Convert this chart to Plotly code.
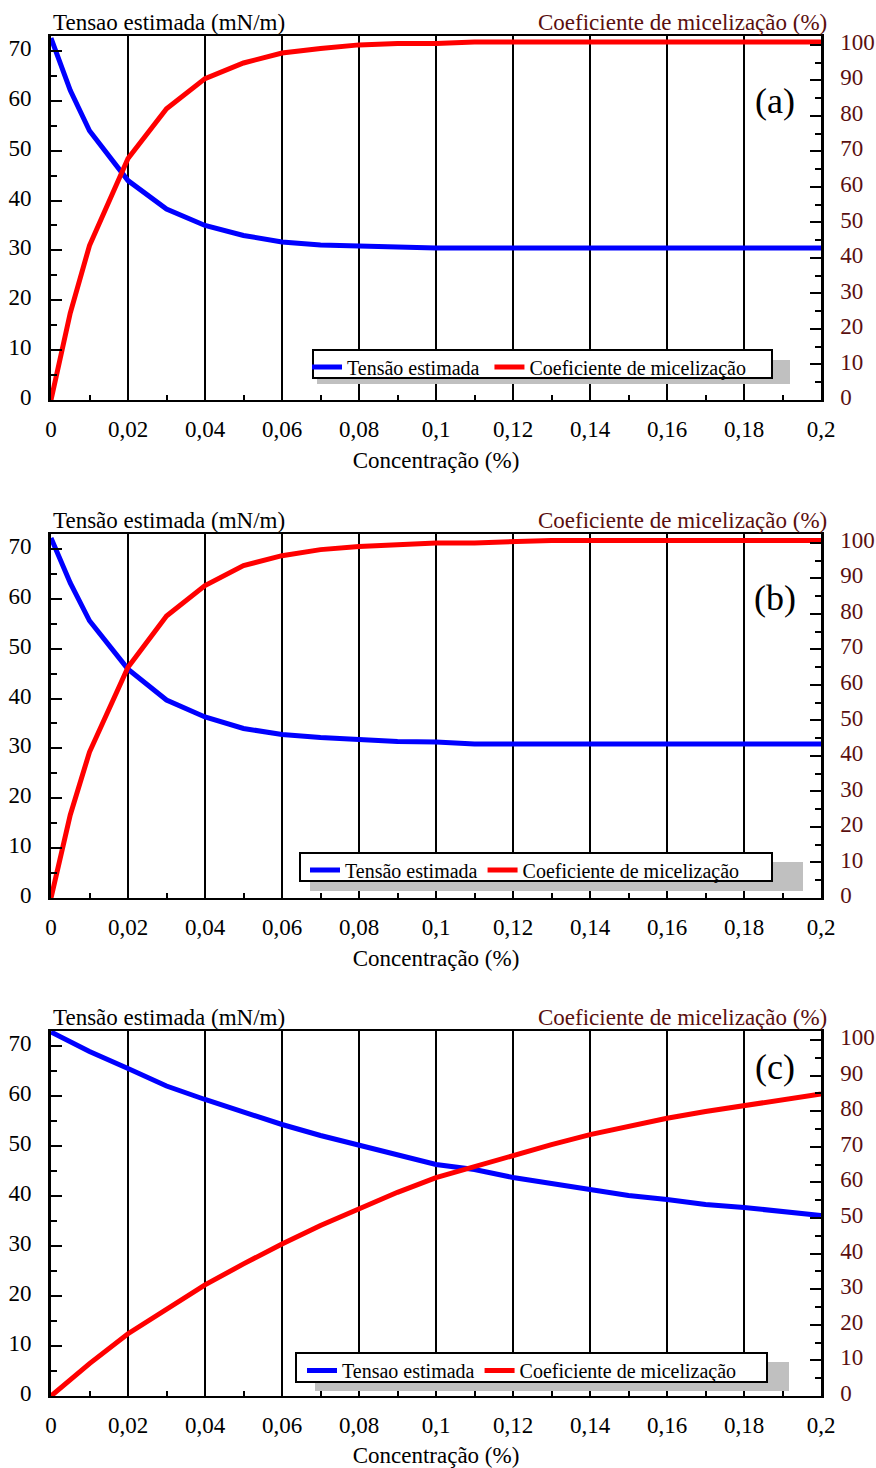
import plotly.graph_objects as go

# ---------------- data ----------------
X_AB = [0, 0.005, 0.01, 0.02, 0.03, 0.04, 0.05, 0.06, 0.07, 0.08, 0.09, 0.1,
        0.11, 0.12, 0.13, 0.14, 0.15, 0.16, 0.17, 0.18, 0.19, 0.2]
TENSAO_A = [72.6, 62.1, 54.0, 44.0, 38.3, 35.0, 33.0, 31.7, 31.1, 30.9, 30.5, 30.5,
            30.5, 30.5, 30.5, 30.5, 30.5, 30.5, 30.5, 30.5, 30.5, 30.5]
COEF_A = [0, 24.5, 43.5, 68.0, 82.0, 90.5, 94.9, 97.7, 99.0, 100.0, 100.4, 100.4,
          100.8, 100.8, 100.8, 100.8, 100.8, 100.8, 100.8, 100.8, 100.8, 100.8]

TENSAO_B = [72.2, 63.2, 55.6, 45.9, 39.7, 36.3, 34.0, 32.8, 32.2, 31.8, 31.4, 31.3,
            30.9, 30.9, 30.9, 30.9, 30.9, 30.9, 30.9, 30.9, 30.9, 30.9]
COEF_B = [0, 23.4, 41.1, 65.0, 79.4, 88.0, 93.6, 96.4, 98.1, 99.0, 99.5, 100.0,
          100.0, 100.4, 100.7, 100.7, 100.7, 100.7, 100.7, 100.7, 100.7, 100.7]

X_C = [0, 0.01, 0.02, 0.03, 0.04, 0.05, 0.06, 0.07, 0.08, 0.09, 0.1,
       0.11, 0.12, 0.13, 0.14, 0.15, 0.16, 0.17, 0.18, 0.19, 0.2]
TENSAO_C = [72.8, 68.9, 65.5, 62.0, 59.3, 56.7, 54.3, 52.1, 50.1, 48.1, 46.3,
            45.3, 43.7, 42.5, 41.3, 40.1, 39.3, 38.3, 37.7, 36.8, 36.1]
COEF_C = [0, 9.1, 17.5, 24.5, 31.2, 37.1, 42.7, 47.9, 52.5, 57.2, 61.3,
          64.5, 67.6, 70.6, 73.4, 75.7, 78.0, 79.9, 81.6, 83.2, 84.8]

X_TICKS = [0, 0.02, 0.04, 0.06, 0.08, 0.1, 0.12, 0.14, 0.16, 0.18, 0.2]
X_TICK_LABELS = ["0", "0,02", "0,04", "0,06", "0,08", "0,1", "0,12", "0,14", "0,16", "0,18", "0,2"]

LEFT_TITLES = ["Tensao estimada (mN/m)", "Tensão estimada (mN/m)", "Tensão estimada (mN/m)"]
RIGHT_TITLE = "Coeficiente de micelização (%)"
X_TITLE = "Concentração (%)"
LEGEND_TENSAO = ["Tensão estimada\u00a0", "Tensão estimada", "Tensao estimada"]
LEGEND_COEF = "Coeficiente de micelização"
PANEL_TAGS = ["(a)", "(b)", "(c)"]

# ---------------- layout helpers ----------------
W, H = 876, 1468
FONT = "Liberation Serif, Times New Roman, serif"
MAROON = "#5a0f0f"


def px(x):
    return x / W


def py(y):
    return 1 - y / H


def f(size, color="black"):
    return dict(family=FONT, size=size, color=color)


X0, X1 = 51, 821
panels = [
    dict(top=36, bottom=400, x=X_AB, t=TENSAO_A, c=COEF_A, tag_y=101,
         leg_x=307, box=(313, 350, 772, 378), shadow=(317, 360, 790, 384)),
    dict(top=534, bottom=898, x=X_AB, t=TENSAO_B, c=COEF_B, tag_y=598,
         leg_x=305, box=(300, 853, 772, 881), shadow=(310, 862, 803, 891)),
    dict(top=1031, bottom=1396, x=X_C, t=TENSAO_C, c=COEF_C, tag_y=1067,
         leg_x=302, box=(296, 1353, 767, 1382), shadow=(315, 1362, 789, 1391)),
]

fig = go.Figure()
layout = dict(
    width=W, height=H, template="none",
    margin=dict(l=0, r=0, t=0, b=0),
    paper_bgcolor="white", plot_bgcolor="white",
    font=f(23),
    showlegend=True,
)
annotations = []
shapes = []

for i, p in enumerate(panels):
    n = i + 1
    xa = "x" if n == 1 else f"x{n}"
    ya_l = 2 * n - 1
    ya_r = 2 * n
    yl = "y" if ya_l == 1 else f"y{ya_l}"
    yr = f"y{ya_r}"
    legname = "legend" if n == 1 else f"legend{n}"

    fig.add_trace(go.Scatter(x=p["x"], y=p["t"], mode="lines", name=LEGEND_TENSAO[i],
                             line=dict(color="#0000ff", width=5),
                             xaxis=xa, yaxis=yl, legend=legname))
    fig.add_trace(go.Scatter(x=p["x"], y=p["c"], mode="lines", name=LEGEND_COEF,
                             line=dict(color="#ff0000", width=5),
                             xaxis=xa, yaxis=yr, legend=legname))

    dom_y = [py(p["bottom"]), py(p["top"])]
    xkey = "xaxis" if n == 1 else f"xaxis{n}"
    ylkey = "yaxis" if ya_l == 1 else f"yaxis{ya_l}"
    yrkey = f"yaxis{ya_r}"

    layout[xkey] = dict(
        domain=[px(X0), px(X1)], anchor=yl, range=[0, 0.2],
        tickmode="array", tickvals=X_TICKS, ticktext=X_TICK_LABELS,
        ticks="inside", ticklen=9, tickwidth=2, tickcolor="black",
        minor=dict(dtick=0.01, tick0=0, ticks="inside", ticklen=5, tickwidth=2, tickcolor="black"),
        showline=True, linewidth=2, linecolor="black", mirror=True,
        showgrid=True, gridcolor="black", gridwidth=1.5, zeroline=False,
        tickfont=f(23), ticklabelstandoff=7,
        title=dict(text=X_TITLE, font=f(23), standoff=11),
        automargin=False, fixedrange=True,
    )
    layout[ylkey] = dict(
        domain=dom_y, anchor=xa, range=[0, 73],
        tickmode="linear", tick0=0, dtick=10,
        ticks="inside", ticklen=11, tickwidth=2, tickcolor="black",
        minor=dict(dtick=5, tick0=0, ticks="inside", ticklen=6, tickwidth=2, tickcolor="black"),
        showline=True, linewidth=3, linecolor="black",
        showgrid=False, zeroline=False,
        tickfont=f(23), ticklabelstandoff=12, ticklabelshift=-3,
        automargin=False, fixedrange=True,
    )
    layout[yrkey] = dict(
        domain=dom_y, anchor=xa, overlaying=yl, side="right", range=[0, 102.5],
        tickmode="linear", tick0=0, dtick=10,
        ticks="inside", ticklen=11, tickwidth=2, tickcolor="black",
        minor=dict(dtick=5, tick0=0, ticks="inside", ticklen=6, tickwidth=2, tickcolor="black"),
        showline=True, linewidth=2.5, linecolor="black",
        showgrid=False, zeroline=False,
        tickfont=f(23, MAROON), ticklabelstandoff=12, ticklabelshift=-3,
        automargin=False, fixedrange=True,
    )

    bx0, by0, bx1, by1 = p["box"]
    layout[legname] = dict(
        x=px(p["leg_x"]), y=py((by0 + by1) / 2 + 3), xanchor="left", yanchor="middle",
        orientation="h", bgcolor="rgba(0,0,0,0)", borderwidth=0,
        font=f(20), itemwidth=30, tracegroupgap=0,
    )
    sx0, sy0, sx1, sy1 = p["shadow"]
    shapes.append(dict(type="rect", xref="paper", yref="paper",
                       x0=px(sx0), x1=px(sx1), y0=py(sy1), y1=py(sy0),
                       fillcolor="#c0c0c0", line=dict(width=0), layer="above"))
    shapes.append(dict(type="rect", xref="paper", yref="paper",
                       x0=px(bx0), x1=px(bx1), y0=py(by1), y1=py(by0),
                       fillcolor="white", line=dict(color="black", width=2), layer="above"))

    annotations.append(dict(text=LEFT_TITLES[i], xref="paper", yref="paper",
                            x=px(51), y=py(p["top"] + 1), xanchor="left", yanchor="bottom",
                            showarrow=False, font=f(23)))
    annotations.append(dict(text=RIGHT_TITLE, xref="paper", yref="paper",
                            x=px(829), y=py(p["top"] + 1), xanchor="right", yanchor="bottom",
                            showarrow=False, font=f(23, MAROON)))
    annotations.append(dict(text=PANEL_TAGS[i], xref="paper", yref="paper",
                            x=px(775), y=py(p["tag_y"]), xanchor="center", yanchor="middle",
                            showarrow=False, font=f(36)))

layout["annotations"] = annotations
layout["shapes"] = shapes
fig.update_layout(**layout)

fig.write_html("out.html", config={"displayModeBar": False},
               post_script="document.body.style.margin='0';")
